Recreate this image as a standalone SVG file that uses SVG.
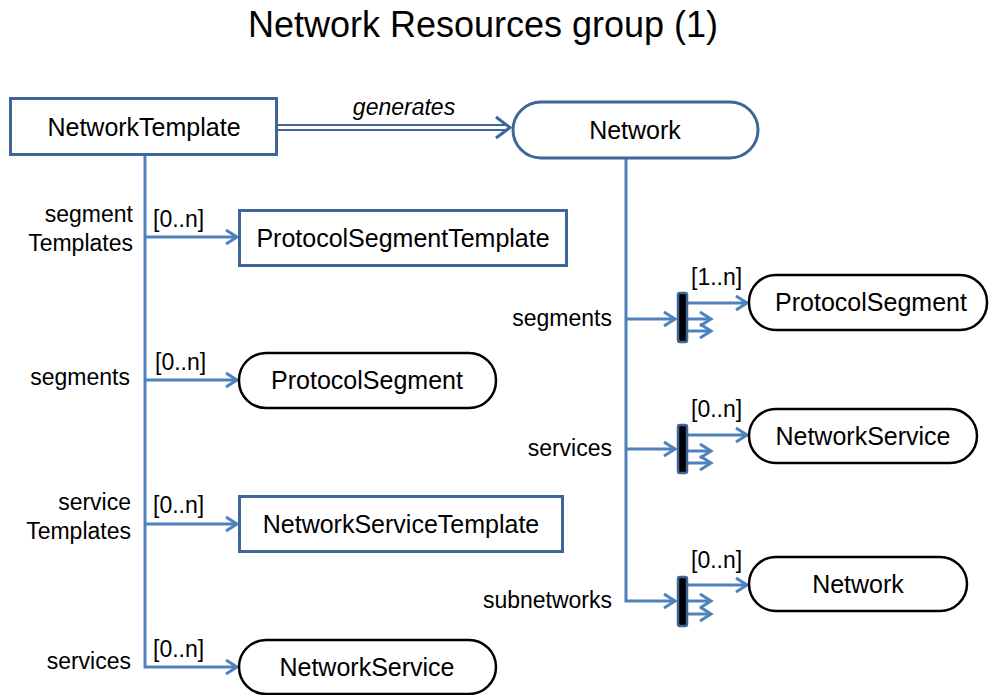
<svg xmlns="http://www.w3.org/2000/svg" width="989" height="695" viewBox="0 0 989 695">
<defs>
<style>
text{font-family:"Liberation Sans",Arial,sans-serif;fill:#000}
.title{font-size:36px;text-anchor:middle}
.node{font-size:25px;text-anchor:middle}
.lbl{font-size:23px}
.r{text-anchor:end}
.box{fill:#fff;stroke:#3f6599;stroke-width:3}
.pill{fill:#fff;stroke:#000;stroke-width:2.5}
.pillb{fill:#fff;stroke:#3f6599;stroke-width:3}
.conn{fill:none;stroke:#4f81bd;stroke-width:3}
.bar{fill:#000;stroke:#3f6599;stroke-width:2.5}
</style>
<marker id="arr" markerUnits="userSpaceOnUse" markerWidth="16" markerHeight="18" refX="13" refY="9" orient="auto">
<path d="M2,2 L13,9 L2,16" fill="none" stroke="#4f81bd" stroke-width="3"/>
</marker>
</defs>
<rect width="989" height="695" fill="#fff"/>
<text class="title" x="483" y="37">Network Resources group (1)</text>

<g id="connectors">
<path class="conn" d="M145,155 V667 H237" marker-end="url(#arr)"/>
<path class="conn" d="M145,237 H237" marker-end="url(#arr)"/>
<path class="conn" d="M145,380 H237" marker-end="url(#arr)"/>
<path class="conn" d="M145,524 H237" marker-end="url(#arr)"/>
<path d="M277,125 H506 M277,130 H506" fill="none" stroke="#3f6599" stroke-width="2"/>
<path d="M496,117 L510,127.5 L496,138" fill="none" stroke="#3f6599" stroke-width="3"/>
<path class="conn" d="M626,158 V601 H675" marker-end="url(#arr)"/>
<path class="conn" d="M626,319 H675" marker-end="url(#arr)"/>
<path class="conn" d="M626,449 H675" marker-end="url(#arr)"/>
<g id="fork1">
<path class="conn" d="M688,303 H747" marker-end="url(#arr)"/>
<path class="conn" d="M688,319 H711" marker-end="url(#arr)"/>
<path class="conn" d="M688,331 H711" marker-end="url(#arr)"/>
<rect class="bar" x="678" y="293" width="9" height="49" rx="2"/>
</g>
<g id="fork2">
<path class="conn" d="M688,435 H747" marker-end="url(#arr)"/>
<path class="conn" d="M688,451 H711" marker-end="url(#arr)"/>
<path class="conn" d="M688,463 H711" marker-end="url(#arr)"/>
<rect class="bar" x="678" y="425" width="9" height="48" rx="2"/>
</g>
<g id="fork3">
<path class="conn" d="M688,585 H747" marker-end="url(#arr)"/>
<path class="conn" d="M688,601 H711" marker-end="url(#arr)"/>
<path class="conn" d="M688,614 H711" marker-end="url(#arr)"/>
<rect class="bar" x="678" y="577" width="9" height="49" rx="2"/>
</g>
<text class="lbl" x="404" y="115" text-anchor="middle" font-style="italic">generates</text>
<text class="lbl r" x="133" y="222">segment</text>
<text class="lbl r" x="133" y="251">Templates</text>
<text class="lbl" x="153" y="227">[0..n]</text>
<text class="lbl r" x="130" y="385">segments</text>
<text class="lbl" x="155" y="370">[0..n]</text>
<text class="lbl r" x="131" y="510">service</text>
<text class="lbl r" x="131" y="539">Templates</text>
<text class="lbl" x="153" y="513">[0..n]</text>
<text class="lbl r" x="131" y="669">services</text>
<text class="lbl" x="153" y="657">[0..n]</text>
<text class="lbl r" x="612" y="326">segments</text>
<text class="lbl" x="691" y="285">[1..n]</text>
<text class="lbl r" x="612" y="456">services</text>
<text class="lbl" x="691" y="417">[0..n]</text>
<text class="lbl r" x="612" y="608">subnetworks</text>
<text class="lbl" x="691" y="568">[0..n]</text>
</g>

<g id="NetworkTemplate">
<rect class="box" x="10.5" y="98.5" width="266" height="56"/>
<text class="node" x="144" y="136">NetworkTemplate</text>
</g>
<g id="NetworkTop">
<rect class="pillb" x="513" y="102" width="245" height="56" rx="28"/>
<text class="node" x="635" y="139">Network</text>
</g>
<g id="ProtocolSegmentTemplate">
<rect class="box" x="239.5" y="210.5" width="327" height="55"/>
<text class="node" x="403" y="247">ProtocolSegmentTemplate</text>
</g>
<g id="ProtocolSegmentLeft">
<rect class="pill" x="239" y="353" width="257" height="55" rx="27"/>
<text class="node" x="367" y="389">ProtocolSegment</text>
</g>
<g id="NetworkServiceTemplate">
<rect class="box" x="239.5" y="496.5" width="323" height="55"/>
<text class="node" x="401" y="533">NetworkServiceTemplate</text>
</g>
<g id="NetworkServiceLeft">
<rect class="pill" x="239" y="640" width="257" height="54" rx="27"/>
<text class="node" x="367" y="676">NetworkService</text>
</g>
<g id="ProtocolSegmentRight">
<rect class="pill" x="749" y="275" width="238" height="55" rx="27"/>
<text class="node" x="871" y="311">ProtocolSegment</text>
</g>
<g id="NetworkServiceRight">
<rect class="pill" x="749" y="409" width="228" height="54" rx="27"/>
<text class="node" x="863" y="445">NetworkService</text>
</g>
<g id="NetworkRight">
<rect class="pill" x="749" y="557" width="218" height="54" rx="27"/>
<text class="node" x="858" y="593">Network</text>
</g>
</svg>
